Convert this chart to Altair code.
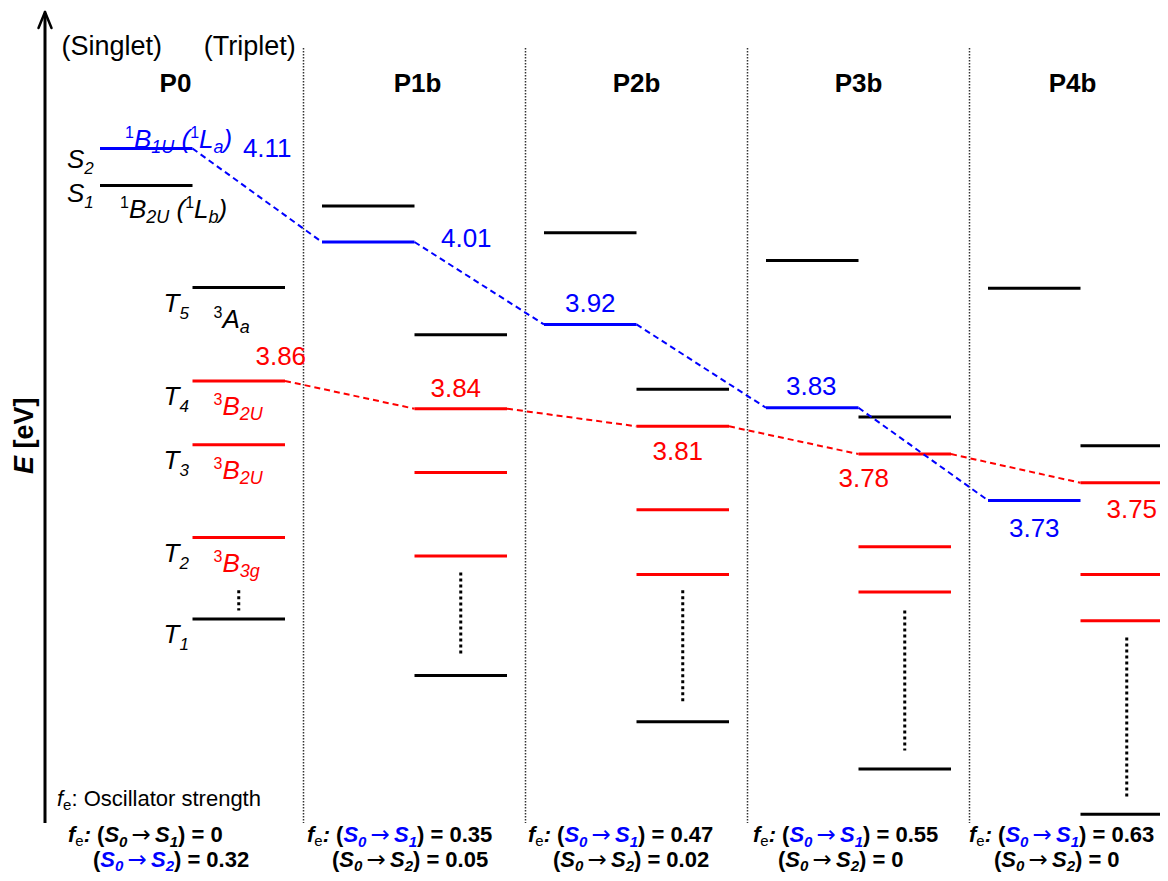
import altair as alt
import pandas as pd

# ---------------- values (energies in eV) ----------------
columns = ["P0", "P1b", "P2b", "P3b", "P4b"]
singlet_black = [4.070, 4.048, 4.019, 3.989, 3.959]
singlet_blue = [4.110, 4.009, 3.920, 3.830, 3.730]
triplet_black_top = [3.960, 3.909, 3.850, 3.820, 3.789]
triplet_red_1 = [3.859, 3.829, 3.810, 3.780, 3.749]
triplet_red_2 = [3.790, 3.760, 3.720, 3.680, 3.650]
triplet_red_3 = [3.690, 3.670, 3.650, 3.631, 3.600]
triplet_black_low = [3.602, 3.541, 3.491, 3.440, 3.391]
gap_top = [3.633, 3.652, 3.633, 3.611, 3.582]
gap_bottom = [3.611, 3.564, 3.511, 3.460, 3.409]
blue_labels = ["4.11", "4.01", "3.92", "3.83", "3.73"]
red_labels = ["3.86", "3.84", "3.81", "3.78", "3.75"]
fe_s1 = ["0", "0.35", "0.47", "0.55", "0.63"]
fe_s2 = ["0.32", "0.05", "0.02", "0", "0"]

BLUE = "#0000FF"
RED = "#FF0000"
BLACK = "#000000"
FONT = "Liberation Sans"
ARROW_FONT = "DejaVu Sans"

# ---------------- layout ----------------
W, H = 1152, 865
SLOT_PX = 92.5          # width of one level slot
COL_STEP = 2.4          # column spacing in slots
PX_PER_EV = 926.0
XMIN = -92.0 / SLOT_PX
XMAX = XMIN + W / SLOT_PX
YMAX = 4.11 + 140.5 / PX_PER_EV
YMIN = YMAX - H / PX_PER_EV


def dx(px):
    return px / SLOT_PX


def dy(px):
    return -px / PX_PER_EV


def page_x(px):
    return XMIN + (px - 8) / SLOT_PX


def page_y(px):
    return YMAX - (px - 8) / PX_PER_EV


REG = {' ': 278, '(': 333, ')': 333, '.': 278, ':': 278, '=': 584, 'S': 667, 'T': 611,
       'B': 667, 'L': 556, 'A': 667, 'U': 722, 'a': 556, 'b': 556, 'g': 556, 'e': 556,
       'f': 278, 'i': 222, 'l': 222, 'n': 556, 't': 278, 'r': 333, 'p': 556, 'O': 778,
       's': 500, 'c': 500, 'h': 556, 'o': 556, 'P': 667, 'E': 667, 'V': 667, '[': 278,
       ']': 278, '\u2192': 838}
BOLD = {' ': 278, '(': 333, ')': 333, '.': 278, ':': 333, '=': 584, 'S': 667, 'f': 333,
        'e': 556, 'E': 667, 'V': 667, '[': 333, ']': 333, 'P': 667, 'b': 611, '\u2192': 838}


def text_w(t, size, weight):
    tab = BOLD if weight == "bold" else REG
    return sum(tab.get(ch, 556) for ch in t) * size / 1000.0


texts = []


def add(x, y, t, size, color, weight="normal", style="normal", align="left", angle=0, font=FONT):
    texts.append(dict(x=x, y=y, text=t, size=size, color=color, weight=weight,
                      style=style, align=align, angle=angle, font=font))


def rich(x, y, segs):
    acc = 0.0
    for t, size, weight, style, color, shift in segs:
        lead = len(t) - len(t.lstrip(' '))
        core = t.strip(' ')
        trail = len(t) - lead - len(core)
        acc += text_w(' ' * lead, size, weight)
        if core:
            fnt = ARROW_FONT if core == "\u2192" else FONT
            add(x + dx(acc), y + dy(shift), core, size, color, weight, style, font=fnt)
        acc += text_w(core, size, weight) + text_w(' ' * trail, size, weight)


# ---- P0 state labels ----
rich(dx(-33), singlet_blue[0] + dy(19),
     [("S", 26, "normal", "italic", BLACK, 0), ("2", 17, "normal", "italic", BLACK, 6)])
rich(dx(-33), singlet_black[0] + dy(16),
     [("S", 26, "normal", "italic", BLACK, 0), ("1", 17, "normal", "italic", BLACK, 6)])


def sym(sup, main, sub, color, extra=None):
    s = [(sup, 16, "normal", "normal", color, -10), (main, 26, "normal", "italic", color, 0),
         (sub, 18, "normal", "italic", color, 5)]
    if extra:
        s += [(" (", 26, "normal", "italic", color, 0), ("1", 16, "normal", "normal", color, -10),
              ("L", 26, "normal", "italic", color, 0), (extra, 18, "normal", "italic", color, 5),
              (")", 26, "normal", "italic", color, 0)]
    return s


rich(dx(25), singlet_blue[0] + dy(-1), sym("1", "B", "1U", BLUE, "a"))
rich(dx(20), singlet_black[0] + dy(32), sym("1", "B", "2U", BLACK, "b"))

t_levels = [triplet_black_top[0], triplet_red_1[0], triplet_red_2[0], triplet_red_3[0],
            triplet_black_low[0]]
t_names = ["5", "4", "3", "2", "1"]
t_dy = [25, 24, 24, 25, 24]
for e, n, o in zip(t_levels, t_names, t_dy):
    rich(1 + dx(-29), e + dy(o),
         [("T", 26, "normal", "italic", BLACK, 0), (n, 17, "normal", "italic", BLACK, 7)])

rich(1 + dx(21), triplet_black_top[0] + dy(41), sym("3", "A", "a", BLACK))
rich(1 + dx(21), triplet_red_1[0] + dy(34), sym("3", "B", "2U", RED))
rich(1 + dx(21), triplet_red_2[0] + dy(34), sym("3", "B", "2U", RED))
rich(1 + dx(21), triplet_red_3[0] + dy(35), sym("3", "B", "3g", RED))

# ---- energy value labels ----
blue_off = [(121, 8.5), (98, 5), (0, -12), (-1, -13), (0, 37)]
red_off = [(42, -16), (-5, -12), (-5, 34), (-41, 33), (5, 35)]
for c in range(5):
    add(c * COL_STEP + 0.5 + dx(blue_off[c][0]), singlet_blue[c] + dy(blue_off[c][1]),
        blue_labels[c], 26, BLUE, align="center")
    add(c * COL_STEP + 1.5 + dx(red_off[c][0]), triplet_red_1[c] + dy(red_off[c][1]),
        red_labels[c], 26, RED, align="center")

# ---- headers ----
add(0.5 + dx(-34.5), page_y(55), "(Singlet)", 27, BLACK, align="center")
add(1.5 + dx(11), page_y(55), "(Triplet)", 27, BLACK, align="center")
head_dx = [-17, 3, 0, 0, -8]
for c in range(5):
    add(c * COL_STEP + 1 + dx(head_dx[c]), page_y(92), columns[c], 26, BLACK,
        weight="bold", align="center")

# ---- legend note ----
rich(page_x(57), page_y(806),
     [("f", 22, "normal", "italic", BLACK, 0), ("e", 15, "normal", "normal", BLACK, 4),
      (": Oscillator strength", 22, "normal", "normal", BLACK, 0)])


# ---- oscillator strengths under each column ----
def trans(n, color, sub_shift):
    return [("S", 22, "bold", "italic", color, 0), ("0", 15, "bold", "italic", color, sub_shift),
            (" ", 15, "normal", "normal", color, 0), ("\u2192", 23, "normal", "normal", color, 0),
            (" ", 15, "normal", "normal", color, 0), ("S", 22, "bold", "italic", color, 0),
            (n, 15, "bold", "italic", color, sub_shift)]


row1_off = [-32, -15, -16, -13, -19]
for c in range(5):
    x1 = c * COL_STEP + dx(row1_off[c])
    hl1 = BLACK if c == 0 else BLUE
    hl2 = BLUE if c == 0 else BLACK
    seg1 = [("f", 22, "bold", "italic", BLACK, 0), ("e", 15, "normal", "normal", BLACK, 4),
            (":", 22, "bold", "italic", BLACK, 0), (" (", 22, "bold", "normal", BLACK, 0)]
    seg1 += trans("1", hl1, 5) + [(") = " + fe_s1[c], 22, "bold", "normal", BLACK, 0)]
    rich(x1, page_y(842), seg1)
    seg2 = [("(", 22, "bold", "normal", BLACK, 0)] + trans("2", hl2, 4)
    seg2 += [(") = " + fe_s2[c], 22, "bold", "normal", BLACK, 0)]
    rich(x1 + dx(25), page_y(867), seg2)

# ---- axis title (rotated) ----
add(page_x(33), page_y(474), "E", 27, BLACK, weight="bold", style="italic", angle=270)
add(page_x(33), page_y(474 - text_w("E ", 27, "bold")), "[eV]", 27, BLACK, weight="bold",
    angle=270)


# ---------------- encodings ----------------
def X(field):
    return alt.X(field, type="quantitative",
                 scale=alt.Scale(domain=[XMIN, XMAX], nice=False, zero=False), axis=None)


def Y(field):
    return alt.Y(field, type="quantitative",
                 scale=alt.Scale(domain=[YMIN, YMAX], nice=False, zero=False), axis=None)


COLOR = alt.Color("color:N", scale=None)

lev_rows = []
for c in range(5):
    x0 = c * COL_STEP
    for e, slot, col in [(singlet_black[c], 0, BLACK), (singlet_blue[c], 0, BLUE),
                         (triplet_black_top[c], 1, BLACK), (triplet_red_1[c], 1, RED),
                         (triplet_red_2[c], 1, RED), (triplet_red_3[c], 1, RED),
                         (triplet_black_low[c], 1, BLACK)]:
        lev_rows.append(dict(x=x0 + slot, x2=x0 + slot + 1, y=e, color=col))
levels = alt.Chart(pd.DataFrame(lev_rows)).mark_rule(strokeWidth=3).encode(
    x=X("x"), x2="x2", y=Y("y"), color=COLOR)

con_rows = []
for c in range(4):
    con_rows.append(dict(x=c * COL_STEP + 1, y=singlet_blue[c], x2=(c + 1) * COL_STEP,
                         y2=singlet_blue[c + 1], color=BLUE))
    con_rows.append(dict(x=c * COL_STEP + 2, y=triplet_red_1[c], x2=(c + 1) * COL_STEP + 1,
                         y2=triplet_red_1[c + 1], color=RED))
connectors = alt.Chart(pd.DataFrame(con_rows)).mark_rule(strokeWidth=2, strokeDash=[6, 4]).encode(
    x=X("x"), x2="x2", y=Y("y"), y2="y2", color=COLOR)

ell = alt.Chart(pd.DataFrame(dict(x=[c * COL_STEP + 1.5 for c in range(5)], y=gap_top,
                                  y2=gap_bottom))).mark_rule(
    strokeWidth=3, strokeDash=[3, 3], color=BLACK).encode(x=X("x"), y=Y("y"), y2="y2")

separators = alt.Chart(pd.DataFrame(dict(x=[c * COL_STEP + 2.2 for c in range(4)],
                                         y=[page_y(48)] * 4, y2=[page_y(823)] * 4))).mark_rule(
    strokeWidth=1.5, strokeDash=[1.5, 1.5], color="#333333").encode(x=X("x"), y=Y("y"), y2="y2")

axis_line = alt.Chart(pd.DataFrame(dict(x=[page_x(45)], y=[page_y(823)], y2=[page_y(13)]))).mark_rule(
    strokeWidth=3, color=BLACK).encode(x=X("x"), y=Y("y"), y2="y2")

arrow = alt.Chart(pd.DataFrame(dict(x=[page_x(45), page_x(45)], y=[page_y(12), page_y(12)],
                                    x2=[page_x(38.5), page_x(51.5)],
                                    y2=[page_y(28), page_y(28)]))).mark_rule(
    strokeWidth=2.5, color=BLACK, strokeCap="round").encode(x=X("x"), y=Y("y"), x2="x2", y2="y2")

tdf = pd.DataFrame(texts)
keys = ["font", "weight", "style", "align", "angle"]
text_layers = []
for (f, w, s, a, ang), g in tdf.groupby(keys):
    text_layers.append(
        alt.Chart(g.drop(columns=keys)).mark_text(
            font=str(f), fontWeight=str(w), fontStyle=str(s), align=str(a), angle=float(ang),
            baseline="alphabetic").encode(
            x=X("x"), y=Y("y"), text="text:N", color=COLOR,
            size=alt.Size("size:Q", scale=None)))

chart = alt.layer(separators, axis_line, arrow, levels, ell, connectors, *text_layers).properties(
    width=W, height=H, padding=0, autosize=alt.AutoSizeParams(type="none")
).configure_view(stroke=None)

chart.save("out.html", embed_options={"renderer": "svg", "actions": False})
